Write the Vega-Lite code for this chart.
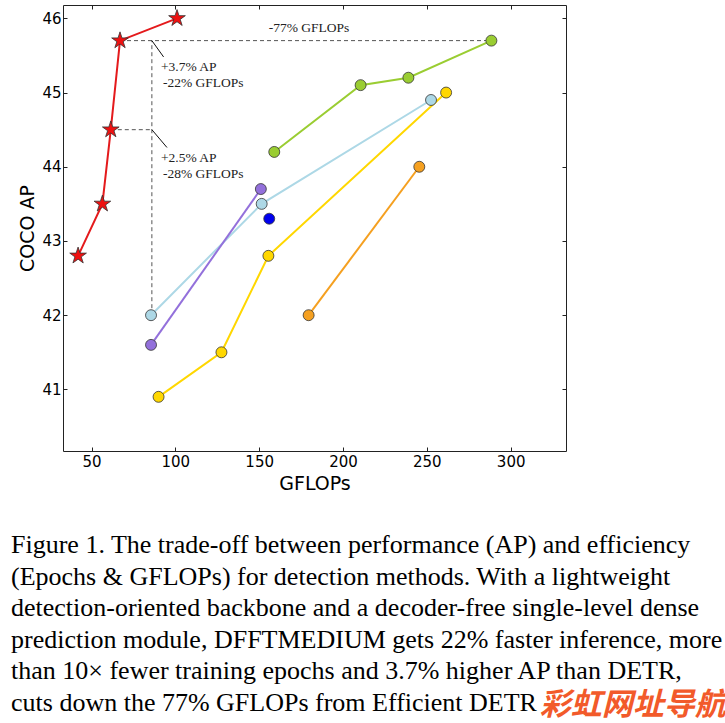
{
  "$schema": "https://vega.github.io/schema/vega-lite/v6.json",
  "autosize": {"type": "pad"},
  "padding": {"left": 10, "top": 4, "right": 0, "bottom": 0},
  "background": "white",
  "title": {
    "text": "彩虹网址导航",
    "orient": "bottom",
    "anchor": "end",
    "frame": "bounds",
    "font": "Noto Sans CJK SC",
    "fontSize": 31,
    "fontWeight": "bold",
    "fontStyle": "italic",
    "color": "#f25a2a",
    "offset": 0,
    "dx": 3,
    "dy": -26
  },
  "datasets": {
    "main": [
      {"method": "DETR, 500 epochs", "gflops": 85.5, "ap": 42.0},
      {"method": "DETR, 500 epochs", "gflops": 151.5, "ap": 43.5},
      {"method": "DETR, 500 epochs", "gflops": 252.5, "ap": 44.9},
      {"method": "YOLOV3, 300 epochs", "gflops": 156, "ap": 43.3},
      {"method": "YOLOF, 72 epochs", "gflops": 85.5, "ap": 41.6},
      {"method": "YOLOF, 72 epochs", "gflops": 151, "ap": 43.7},
      {"method": "Conditional DETR, 50 epochs", "gflops": 90, "ap": 40.9},
      {"method": "Conditional DETR, 50 epochs", "gflops": 127.5, "ap": 41.5},
      {"method": "Conditional DETR, 50 epochs", "gflops": 155.5, "ap": 42.8},
      {"method": "Conditional DETR, 50 epochs", "gflops": 261.5, "ap": 45.0},
      {"method": "FasterRCNN, 36 epochs", "gflops": 179.5, "ap": 42.0},
      {"method": "FasterRCNN, 36 epochs", "gflops": 245.5, "ap": 44.0},
      {"method": "Efficient DETR, 36 epochs", "gflops": 159, "ap": 44.2},
      {"method": "Efficient DETR, 36 epochs", "gflops": 210.5, "ap": 45.1},
      {"method": "Efficient DETR, 36 epochs", "gflops": 239, "ap": 45.2},
      {"method": "Efficient DETR, 36 epochs", "gflops": 288.5, "ap": 45.7},
      {"method": "Ours-DFFT, 36 epochs", "gflops": 42, "ap": 42.8},
      {"method": "Ours-DFFT, 36 epochs", "gflops": 56.5, "ap": 43.5},
      {"method": "Ours-DFFT, 36 epochs", "gflops": 61.5, "ap": 44.5},
      {"method": "Ours-DFFT, 36 epochs", "gflops": 67, "ap": 45.7},
      {"method": "Ours-DFFT, 36 epochs", "gflops": 101, "ap": 46.0}
    ],
    "dash": [
      {"gflops": 67, "gflops2": 288.5, "ap": 45.7, "ap2": 45.7},
      {"gflops": 86, "gflops2": 86, "ap": 42.0, "ap2": 45.7},
      {"gflops": 61.5, "gflops2": 86, "ap": 44.5, "ap2": 44.5}
    ],
    "diag": [
      {"gflops": 86, "gflops2": 93, "ap": 45.7, "ap2": 45.48},
      {"gflops": 86, "gflops2": 95, "ap": 44.5, "ap2": 44.26}
    ],
    "notes": [
      {"gflops": 91.4, "ap": 45.34, "t": "+3.7% AP"},
      {"gflops": 92.6, "ap": 45.13, "t": "-22% GFLOPs"},
      {"gflops": 91.4, "ap": 44.12, "t": "+2.5% AP"},
      {"gflops": 92.6, "ap": 43.9, "t": "-28% GFLOPs"},
      {"gflops": 155.7, "ap": 45.87, "t": "-77% GFLOPs"}
    ]
  },
  "vconcat": [
    {
      "width": 503,
      "height": 446,
      "title": {
        "text": [
          "Figure 1. The trade-off between performance (AP) and efficiency",
          "(Epochs & GFLOPs) for detection methods.  With a lightweight",
          "detection-oriented backbone and a decoder-free single-level dense",
          "prediction module, DFFTMEDIUM gets 22% faster inference, more",
          "than 10× fewer training epochs and 3.7% higher AP than DETR,",
          "cuts down the 77% GFLOPs from Efficient DETR"
        ],
        "orient": "bottom",
        "anchor": "start",
        "frame": "group",
        "font": "Liberation Serif",
        "fontSize": 26,
        "fontWeight": "normal",
        "color": "#000",
        "lineHeight": 31.6,
        "offset": 39,
        "dx": -52
      },
      "resolve": {"axis": {"x": "independent", "y": "independent"}},
      "layer": [
        {
          "data": {"name": "main"},
          "mark": {"type": "line", "strokeWidth": 2},
          "encoding": {
            "x": {"field": "gflops", "type": "quantitative", "scale": {"domain": [33, 333], "nice": false, "zero": false},
              "axis": {"orient": "bottom", "values": [50, 100, 150, 200, 250, 300], "format": "d", "title": "GFLOPs", "labelPadding": 7, "titlePadding": 5}},
            "y": {"field": "ap", "type": "quantitative", "scale": {"domain": [40.17, 46.18], "nice": false, "zero": false},
              "axis": {"orient": "left", "values": [41, 42, 43, 44, 45, 46], "format": "d", "title": "COCO AP", "labelPadding": 6, "titlePadding": 4}},
            "stroke": {"field": "method", "type": "nominal",
              "scale": {"domain": ["DETR, 500 epochs", "YOLOV3, 300 epochs", "YOLOF, 72 epochs", "Conditional DETR, 50 epochs", "FasterRCNN, 36 epochs", "Efficient DETR, 36 epochs", "Ours-DFFT, 36 epochs"],
                "range": ["#add8e6", "#0000ee", "#9370db", "#ffd700", "#f5a020", "#9acd32", "#e41a1c"]},
              "legend": null}
          }
        },
        {
          "data": {"name": "dash"},
          "mark": {"type": "rule", "strokeDash": [4, 3], "color": "#555", "strokeWidth": 1},
          "encoding": {
            "x": {"field": "gflops", "type": "quantitative", "scale": {"domain": [33, 333], "nice": false, "zero": false},
              "axis": {"orient": "top", "values": [50, 100, 150, 200, 250, 300], "labels": false, "title": null}},
            "x2": {"field": "gflops2"},
            "y": {"field": "ap", "type": "quantitative", "scale": {"domain": [40.17, 46.18], "nice": false, "zero": false},
              "axis": {"orient": "right", "values": [41, 42, 43, 44, 45, 46], "labels": false, "title": null}},
            "y2": {"field": "ap2"}
          }
        },
        {
          "data": {"name": "diag"},
          "mark": {"type": "rule", "color": "#111", "strokeWidth": 1},
          "encoding": {
            "x": {"field": "gflops", "type": "quantitative", "scale": {"domain": [33, 333], "nice": false, "zero": false}, "axis": null},
            "x2": {"field": "gflops2"},
            "y": {"field": "ap", "type": "quantitative", "scale": {"domain": [40.17, 46.18], "nice": false, "zero": false}, "axis": null},
            "y2": {"field": "ap2"}
          }
        },
        {
          "data": {"name": "main"},
          "mark": {"type": "point", "filled": true, "opacity": 1, "size": 120, "stroke": "#333", "strokeWidth": 0.8},
          "encoding": {
            "x": {"field": "gflops", "type": "quantitative", "scale": {"domain": [33, 333], "nice": false, "zero": false}, "axis": null},
            "y": {"field": "ap", "type": "quantitative", "scale": {"domain": [40.17, 46.18], "nice": false, "zero": false}, "axis": null},
            "color": {"field": "method", "type": "nominal",
              "scale": {"domain": ["DETR, 500 epochs", "YOLOV3, 300 epochs", "YOLOF, 72 epochs", "Conditional DETR, 50 epochs", "FasterRCNN, 36 epochs", "Efficient DETR, 36 epochs", "Ours-DFFT, 36 epochs"],
                "range": ["#add8e6", "#0000ee", "#9370db", "#ffd700", "#f5a020", "#9acd32", "#ee1111"]},
              "legend": {"title": null, "orient": "bottom-right", "offset": 3, "padding": 6, "strokeColor": "#000", "fillColor": "#fff", "labelFont": "DejaVu Sans", "labelFontSize": 13, "labelColor": "#000", "symbolSize": 130, "symbolStrokeColor": "#444", "symbolStrokeWidth": 0.8, "rowPadding": 5, "labelOffset": 7, "symbolOffset": 12, "cornerRadius": 0}},
            "shape": {"field": "method", "type": "nominal",
              "scale": {"domain": ["DETR, 500 epochs", "YOLOV3, 300 epochs", "YOLOF, 72 epochs", "Conditional DETR, 50 epochs", "FasterRCNN, 36 epochs", "Efficient DETR, 36 epochs", "Ours-DFFT, 36 epochs"],
                "range": ["circle", "circle", "circle", "circle", "circle", "circle", "M0,-1.6L0.3592,-0.4944L1.5216,-0.4944L0.5808,0.1888L0.9408,1.2944L0,0.6112L-0.9408,1.2944L-0.5808,0.1888L-1.5216,-0.4944L-0.3592,-0.4944Z"]},
              "legend": {"title": null, "orient": "bottom-right", "offset": 3, "padding": 6, "strokeColor": "#000", "fillColor": "#fff", "labelFont": "DejaVu Sans", "labelFontSize": 13, "labelColor": "#000", "symbolSize": 130, "symbolStrokeColor": "#444", "symbolStrokeWidth": 0.8, "rowPadding": 5, "labelOffset": 7, "symbolOffset": 12, "cornerRadius": 0}}
          }
        },
        {
          "data": {"name": "notes"},
          "mark": {"type": "text", "align": "left", "baseline": "middle", "font": "Liberation Serif", "fontSize": 13.5, "color": "#222"},
          "encoding": {
            "x": {"field": "gflops", "type": "quantitative", "scale": {"domain": [33, 333], "nice": false, "zero": false}, "axis": null},
            "y": {"field": "ap", "type": "quantitative", "scale": {"domain": [40.17, 46.18], "nice": false, "zero": false}, "axis": null},
            "text": {"field": "t"}
          }
        }
      ]
    }
  ],
  "config": {
    "view": {"stroke": "#222", "strokeWidth": 1},
    "axis": {"grid": false, "domain": false, "ticks": true, "tickColor": "#222", "tickSize": -4, "labelPadding": 6,
      "labelFont": "DejaVu Sans", "labelFontSize": 15, "labelColor": "#000",
      "titleFont": "DejaVu Sans", "titleFontSize": 19, "titleFontWeight": "normal", "titleColor": "#000"}
  }
}
